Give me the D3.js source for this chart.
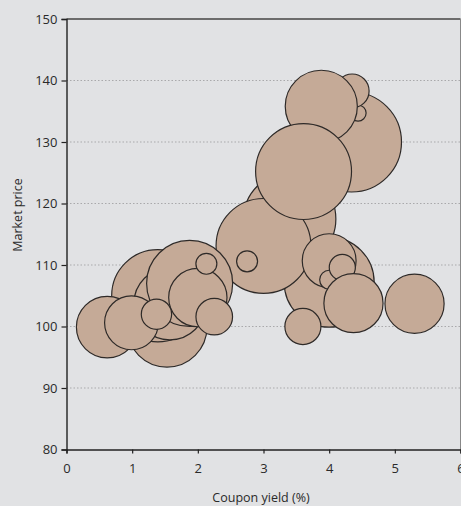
<!DOCTYPE html>
<html><head><meta charset="utf-8">
<script src="https://cdn.jsdelivr.net/npm/d3@7"></script>
<style>
html,body{margin:0;padding:0;background:#e1e2e4;}
svg{display:block;}
text{font-family:"Open Sans","DejaVu Sans",sans-serif;fill:#2a2a2a;}
</style></head>
<body>
<script>
// Bubble data (drawing order = array order)
const couponYield = [4.34, 4.44, 4.35, 3.88, 3.40, 4.00, 3.00, 3.61, 2.75, 3.60, 4.00, 4.00, 4.20, 4.37, 5.30,
                     1.53, 1.39, 0.62, 1.575, 1.875, 2.00, 2.13, 2.25, 0.99, 1.37];
const marketPrice = [130.0, 134.7, 138.3, 135.8, 117.5, 107.2, 113.1, 125.2, 110.6, 100.0, 110.7, 107.6, 109.6, 103.8, 103.7,
                     99.9, 105.0, 99.9, 103.7, 107.0, 104.7, 110.2, 101.6, 100.6, 102.0];
const issueSize   = [100, 2.6, 11.5, 52, 85, 81, 90, 92, 4.4, 13, 29, 3.6, 6.8, 35, 35,
                     64, 85, 38, 52, 74, 34, 4.4, 13.4, 29, 9.2];
const xTicks = [0, 1, 2, 3, 4, 5, 6];
const yTicks = [80, 90, 100, 110, 120, 130, 140, 150];
const gridTicks = [90, 100, 110, 120, 130, 140];
const xTitle = "Coupon yield (%)";
const yTitle = "Market price";

const W = 461, H = 506;
const svg = d3.select("body").append("svg").attr("width", W).attr("height", H);
const x = d3.scaleLinear().domain([0, 6]).range([66.5, 460.5]);
const y = d3.scaleLinear().domain([80, 150]).range([449.5, 19]);
const r = d3.scaleSqrt().domain([0, 100]).range([0, 50]);

// gridlines
svg.append("g").selectAll("line").data(gridTicks).join("line")
  .attr("x1", x(0)).attr("x2", x(6))
  .attr("y1", d => y(d)).attr("y2", d => y(d))
  .attr("stroke", "#a9a9ab").attr("stroke-width", 1).attr("stroke-dasharray", "1.5,2");

// frame top and right
svg.append("line").attr("x1", x(0)).attr("x2", x(6)).attr("y1", y(150)).attr("y2", y(150))
  .attr("stroke", "#444").attr("stroke-width", 1.5);
svg.append("line").attr("x1", x(6)).attr("x2", x(6)).attr("y1", y(150)).attr("y2", y(80))
  .attr("stroke", "#888").attr("stroke-width", 1);

svg.append("defs").append("clipPath").attr("id", "clip")
  .append("rect").attr("x", x(0)).attr("y", y(150)).attr("width", x(6) - x(0)).attr("height", y(80) - y(150));

const data = couponYield.map((c, i) => ({c, p: marketPrice[i], s: issueSize[i]}));
svg.append("g").attr("clip-path", "url(#clip)").selectAll("circle").data(data).join("circle")
  .attr("cx", d => x(d.c)).attr("cy", d => y(d.p)).attr("r", d => r(d.s))
  .attr("fill", "#c5aa97").attr("stroke", "#2e2a28").attr("stroke-width", 1.2);

// axes
const xa = svg.append("g").attr("transform", `translate(0,${y(80)})`)
  .call(d3.axisBottom(x).tickValues(xTicks).tickFormat(d3.format("d")).tickSize(4).tickPadding(10));
const ya = svg.append("g").attr("transform", `translate(${x(0)},0)`)
  .call(d3.axisLeft(y).tickValues(yTicks).tickFormat(d3.format("d")).tickSize(5).tickPadding(4));
[xa, ya].forEach(a => {
  a.select(".domain").attr("stroke", "#222").attr("stroke-width", 1.4);
  a.selectAll(".tick line").attr("stroke", "#222").attr("stroke-width", 1.2);
  a.selectAll(".tick text").attr("font-size", 13).attr("fill", "#2a2a2a")
   .attr("font-family", "'Open Sans','DejaVu Sans',sans-serif");
});

svg.append("text").attr("x", 261).attr("y", 502).attr("text-anchor", "middle")
  .attr("font-size", 12.5).text(xTitle);
svg.append("text").attr("transform", "translate(22,215) rotate(-90)").attr("text-anchor", "middle")
  .attr("font-size", 12.5).text(yTitle);
</script>
</body></html>
